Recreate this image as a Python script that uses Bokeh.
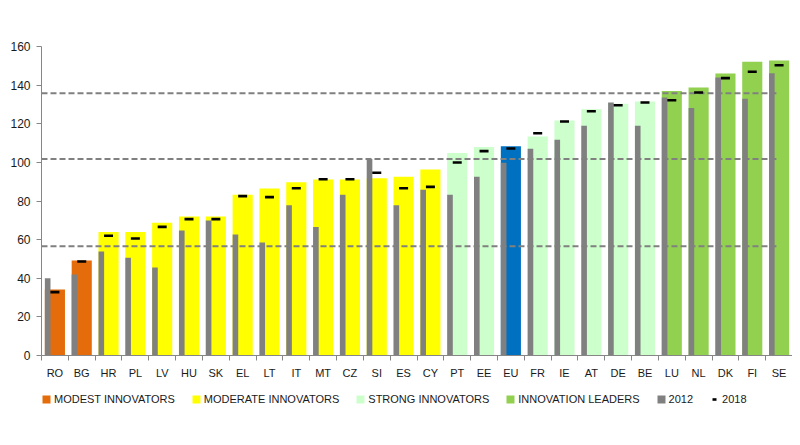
import numpy as np
from bokeh.plotting import figure
from bokeh.layouts import column
from bokeh.models import (ColumnDataSource, Range1d, FixedTicker, Legend, LegendItem,
                          CDSView, GroupFilter)
from bokeh.transform import dodge
from bokeh.embed import file_html
from bokeh.resources import INLINE

countries = ["RO", "BG", "HR", "PL", "LV", "HU", "SK", "EL", "LT", "IT", "MT", "CZ", "SI", "ES",
             "CY", "PT", "EE", "EU", "FR", "IE", "AT", "DE", "BE", "LU", "NL", "DK", "FI", "SE"]
groups = (["modest"] * 2 + ["moderate"] * 13 + ["strong"] * 2 + ["eu"] +
          ["strong"] * 5 + ["leader"] * 5)
score_current = [34.2, 49.2, 63.9, 63.9, 68.7, 72.0, 72.0, 83.2, 86.5, 89.7, 91.1, 91.1, 91.8, 92.5,
                 96.3, 104.9, 107.9, 108.4, 113.4, 121.7, 127.5, 130.3, 131.5, 136.9, 138.8, 146.0,
                 152.1, 152.7]
score_2012 = [40.0, 41.9, 53.8, 50.6, 45.6, 64.7, 69.9, 62.7, 58.5, 77.8, 66.6, 83.2, 101.8, 77.8,
              85.8, 83.2, 92.5, 99.8, 107.0, 111.7, 118.9, 131.0, 118.9, 133.6, 128.2, 143.9,
              132.9, 146.2]
score_2018 = [32.8, 48.7, 62.0, 60.6, 66.6, 70.6, 70.6, 82.5, 82.0, 86.6, 91.3, 91.3, 94.6, 86.6,
              87.3, 99.9, 105.8, 107.2, 115.1, 121.2, 126.5, 129.6, 131.0, 132.2, 136.2, 143.6,
              146.9, 150.3]
thresholds = [135.8, 101.8, 56.6]
y_ticks = [0, 20, 40, 60, 80, 100, 120, 140, 160]

group_colors = {"modest": "#E46C0A", "moderate": "#FFFF00", "strong": "#CCFFCC",
                "leader": "#92D050", "eu": "#0070C0"}
group_labels = {"modest": "MODEST INNOVATORS", "moderate": "MODERATE INNOVATORS",
                "strong": "STRONG INNOVATORS", "leader": "INNOVATION LEADERS"}
gray_2012 = "#808080"

n = len(countries)
src = ColumnDataSource(dict(x=np.arange(n) + 0.5, country=countries, group=groups,
                            cur=score_current, y2012=score_2012, y2018=score_2018))

p = figure(frame_width=751, frame_height=309, x_range=Range1d(0, n), y_range=Range1d(0, 160),
           output_backend="svg", toolbar_location=None,
           min_border_left=41, min_border_top=46, min_border_right=0, min_border_bottom=30)
p.outline_line_color = None
p.xgrid.visible = False
p.ygrid.visible = False

for g in ["modest", "moderate", "strong", "eu", "leader"]:
    view = CDSView(filter=GroupFilter(column_name="group", group=g))
    p.vbar(x="x", top="cur", bottom=0, width=0.75, source=src, view=view,
           fill_color=group_colors[g], line_color=None)

for t in thresholds:
    p.segment(x0=0, x1=27.4, y0=t, y1=t, line_color="#808080", line_width=2, line_dash="6 3")

p.vbar(x=dodge("x", -0.27), top="y2012", bottom=0, width=0.21, source=src,
       fill_color=gray_2012, line_color=None)
p.scatter(x="x", y="y2018", marker="dash", size=9, line_width=2.6, line_color="black",
          source=src)

# x axis: labels at category centres, ticks at category boundaries
xa = p.xaxis[0]
xa.ticker = FixedTicker(ticks=list(np.arange(n) + 0.5), minor_ticks=list(range(n + 1)))
xa.major_label_overrides = {float(i + 0.5): c for i, c in enumerate(countries)}
xa.major_tick_out = 0
xa.major_tick_in = 0
xa.minor_tick_out = 5
xa.minor_tick_in = 0
xa.minor_tick_line_color = "#868686"
xa.axis_line_color = "#868686"
xa.major_label_standoff = 6
xa.major_label_text_font = "Liberation Sans"
xa.major_label_text_font_size = "11px"
xa.major_label_text_color = "#1a1a1a"

ya = p.yaxis[0]
ya.ticker = FixedTicker(ticks=y_ticks, minor_ticks=[])
ya.major_tick_out = 5
ya.major_tick_in = 0
ya.major_tick_line_color = "#868686"
ya.axis_line_color = "#868686"
ya.major_label_standoff = 6
ya.major_label_text_font = "Liberation Sans"
ya.major_label_text_font_size = "12px"
ya.major_label_text_color = "#1a1a1a"

# legend strip: a small figure holding only the legend; its renderers use the same
# data, but its ranges keep every mark out of view so only the legend keys show
q = figure(width=792, height=40, x_range=Range1d(1000, 1001), y_range=Range1d(1000, 1001),
           output_backend="svg", toolbar_location=None,
           min_border_left=0, min_border_right=0, min_border_top=0, min_border_bottom=0)
q.axis.visible = False
q.xgrid.visible = False
q.ygrid.visible = False
q.outline_line_color = None

items = []
for g in ["modest", "moderate", "strong", "leader"]:
    view = CDSView(filter=GroupFilter(column_name="group", group=g))
    r = q.vbar(x="x", top="cur", bottom=0, width=0.75, source=src, view=view,
               fill_color=group_colors[g], line_color=None)
    items.append(LegendItem(label=group_labels[g], renderers=[r]))
r = q.vbar(x="x", top="y2012", bottom=0, width=0.21, source=src,
           fill_color=gray_2012, line_color=None)
items.append(LegendItem(label="2012", renderers=[r]))
r = q.scatter(x="x", y="y2018", marker="dash", size=9, line_width=2.6, line_color="black",
              source=src)
items.append(LegendItem(label="2018", renderers=[r]))

legend = Legend(items=items, orientation="horizontal", location=(0, 20), margin=0,
                glyph_width=10, glyph_height=10, label_standoff=3, spacing=16, padding=0,
                border_line_color=None, background_fill_alpha=0,
                label_text_font="Liberation Sans", label_text_font_size="11px",
                label_text_color="#1a1a1a", label_height=10)
q.add_layout(legend, "center")

layout = column(p, q, spacing=0)
open("out.html", "w").write(file_html(layout, INLINE))
